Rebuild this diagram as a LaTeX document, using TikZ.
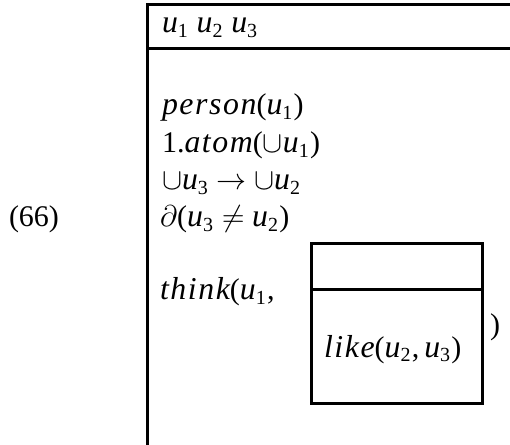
\documentclass[tikz,border=0pt,12pt]{standalone}
\usepackage{fontspec}
\setmainfont{Liberation Serif}[ItalicFeatures={Scale=1.06}]
\usetikzlibrary{positioning}
\newcommand{\dvar}[1]{\textit{u}\textsubscript{#1}}
\newcommand{\pred}[1]{{\itshape\addfontfeatures{LetterSpace=5}#1}}

\begin{document}
\begin{tikzpicture}[x=0.4pt, y=-0.4pt, line width=1.2pt, cond/.style={anchor=base west, inner sep=0pt, outer sep=0pt}]
\tikzstyle{frame} = [draw, line width=1.2pt]
\clip (0,0) rectangle (510,444);
% outer DRS, cut off at right and bottom
\draw[frame] (147,5) rectangle (540,480);
\draw[frame] (147,49) -- (540,49);
\node[cond] (refs) at (162,33) {\dvar{1} \dvar{2} \dvar{3}};
\node[cond] (person) at (162,115) {\pred{person}(\dvar{1})};
\node[cond] (atom) at (162,153) {1.\pred{atom}($\cup$\dvar{1})};
\node[cond] (arrow) at (162,190) {$\cup$\dvar{3} $\rightarrow$ $\cup$\dvar{2}};
\node[cond] (presup) at (160,227) {$\partial$(\dvar{3} $\neq$ \dvar{2})};
\node[cond] (num) at (9,227) {(66)};
\node[cond] (think) at (160,300) {\pred{think}(\dvar{1},};
% embedded DRS
\draw[frame] (311,244) rectangle (482,403);
\draw[frame] (311,289) -- (482,289);
\node[cond] (like) at (324,357) {\pred{like}(\dvar{2},\,\dvar{3})};
\node[cond] (close) at (490,334) {)};
\end{tikzpicture}
\end{document}
